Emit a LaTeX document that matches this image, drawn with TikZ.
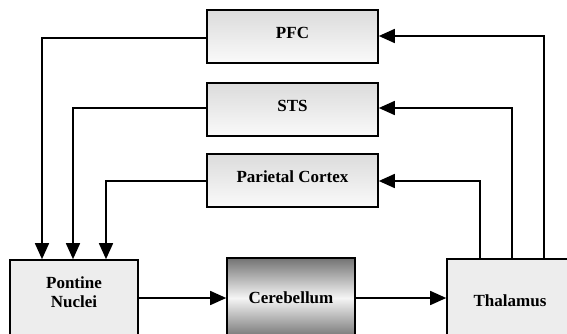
\documentclass[tikz,border=0pt]{standalone}
\usepackage{fontspec}
\setmainfont{Liberation Serif}
\usetikzlibrary{arrows.meta}
\begin{document}
\begin{tikzpicture}[x=1pt,y=1pt,
  every node/.style={font=\fontsize{17}{19}\selectfont\bfseries},
  topbox/.style={draw,line width=1.6pt,rectangle,minimum width=171pt,minimum height=53pt,
    top color=black!14,bottom color=black!2,text height=11pt,text depth=8pt,inner sep=0pt},
  lowbox/.style={draw,line width=1.6pt,rectangle,fill=black!7,inner sep=0pt},
  conn/.style={line width=1.6pt,-{Triangle[length=16pt,width=14pt]}}]
\useasboundingbox (0,0) rectangle (567,333);
\clip (0,0) rectangle (567,333);
\node[topbox] (pfc) at (292.5,296.5) {PFC};
\node[topbox] (sts) at (292.5,223.5) {STS};
\node[topbox] (par) at (292.5,152.5) {Parietal Cortex};
\node[lowbox,minimum width=128pt,minimum height=76pt,align=center,text height=28pt,text depth=8.6pt] (pon) at (74,35) {Pontine\\Nuclei};
\node[draw,line width=1.6pt,rectangle,minimum width=128pt,minimum height=80pt,inner sep=0pt,
  top color=black!55,bottom color=black!55,middle color=black!4] (cer) at (291,35) {Cerebellum};
\node[lowbox,minimum width=126pt,minimum height=78pt,text height=16pt,text depth=0pt] (tha) at (510,35) {Thalamus};
\coordinate (l1) at (42,295);
\coordinate (l2) at (73,225);
\coordinate (l3) at (106,152);
\coordinate (r1) at (544,297);
\coordinate (r2) at (512,225);
\coordinate (r3) at (480,152);
\draw[conn] (pfc.west |- l1) -- (l1) -- (l1 |- pon.north);
\draw[conn] (sts.west |- l2) -- (l2) -- (l2 |- pon.north);
\draw[conn] (par.west |- l3) -- (l3) -- (l3 |- pon.north);
\draw[conn] (r1 |- tha.north) -- (r1) -- (pfc.east |- r1);
\draw[conn] (r2 |- tha.north) -- (r2) -- (sts.east |- r2);
\draw[conn] (r3 |- tha.north) -- (r3) -- (par.east |- r3);
\draw[conn] (pon) -- (cer);
\draw[conn] (cer) -- (tha);
\end{tikzpicture}
\end{document}
